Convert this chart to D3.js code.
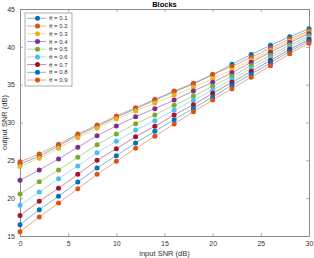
<!DOCTYPE html>
<html>
<head>
<meta charset="utf-8">
<script src="https://cdn.jsdelivr.net/npm/d3@7"></script>
<style>
  body { margin: 0; background: #fff; }
  svg { font-family: "Liberation Sans", Arial, sans-serif; }
</style>
</head>
<body>
<div id="chart"></div>
<script>
// input SNR values (x)
var inputSnr = [0, 2, 4, 6, 8, 10, 12, 14, 16, 18, 20, 22, 24, 26, 28, 30];

var thetas = ['0.1', '0.2', '0.3', '0.4', '0.5', '0.6', '0.7', '0.8', '0.9'];

// output SNR per theta
var s01 = [24.5, 25.55, 26.9, 28.3, 29.5, 30.7, 31.8, 32.95, 34.05, 35.1, 36.3, 37.69, 39.0, 40.2, 41.34, 42.4];
var s02 = [24.8, 25.85, 27.12, 28.48, 29.67, 30.86, 31.96, 33.07, 34.16, 35.18, 36.37, 37.4, 38.62, 39.82, 41.03, 42.13];
var s03 = [24.2, 25.27, 26.59, 27.99, 29.23, 30.46, 31.52, 32.58, 33.6, 34.65, 35.8, 36.95, 38.25, 39.52, 40.78, 41.92];
var s04 = [22.36, 23.72, 25.18, 26.72, 28.26, 29.54, 30.77, 31.83, 32.97, 34.16, 35.31, 36.58, 37.97, 39.28, 40.58, 41.74];
var s05 = [20.55, 22.18, 23.72, 25.4, 27.07, 28.48, 29.85, 31.0, 32.27, 33.5, 34.78, 36.1, 37.52, 38.88, 40.24, 41.45];
var s06 = [19.05, 20.82, 22.58, 24.25, 26.0, 27.52, 29.0, 30.24, 31.65, 32.93, 34.3, 35.71, 37.15, 38.55, 39.97, 41.22];
var s07 = [17.7, 19.59, 21.3, 23.15, 25.0, 26.54, 28.13, 29.5, 30.99, 32.35, 33.86, 35.31, 36.76, 38.2, 39.68, 40.97];
var s08 = [16.5, 18.48, 20.25, 22.14, 23.99, 25.61, 27.29, 28.84, 30.37, 31.88, 33.37, 34.92, 36.39, 37.88, 39.41, 40.74];
var s09 = [15.57, 17.51, 19.36, 21.25, 23.15, 24.87, 26.59, 28.18, 29.8, 31.43, 32.97, 34.47, 35.97, 37.5, 39.1, 40.47];

var xTicks = [0, 5, 10, 15, 20, 25, 30];
var yTicks = [15, 20, 25, 30, 35, 40, 45];

// matlab default line colours, cycling after seven
var colors = ['#0072BD', '#D95319', '#EDB120', '#7E2F8E', '#77AC30', '#4DBEEE', '#A2142F', '#0072BD', '#D95319'];

var series = [s01, s02, s03, s04, s05, s06, s07, s08, s09].map(function(vals, i) {
  return {
    name: thetas[i],
    color: colors[i],
    points: vals.map(function(v, j) { return { x: inputSnr[j], y: v }; })
  };
});

// note: "top" is taken by window.top, so plot edges get their own names
var W = 314, H = 258;
var pLeft = 20, pRight = 309, pTop = 9, pBottom = 236;

var svg = d3.select('#chart').append('svg')
    .attr('width', W)
    .attr('height', H);

var x = d3.scaleLinear().domain([0, 30]).range([pLeft, pRight]);
var y = d3.scaleLinear().domain([15, 45]).range([pBottom, pTop]);

var axisColor = '#8a8a8a';
var textColor = '#333';
var tick = 3;

// axes, matlab style: ticks inside, box on
svg.append('g')
    .attr('transform', 'translate(0,' + pBottom + ')')
    .call(d3.axisBottom(x).tickValues(xTicks).tickSizeInner(-tick).tickSizeOuter(0).tickPadding(5));
svg.append('g')
    .attr('transform', 'translate(0,' + pTop + ')')
    .call(d3.axisTop(x).tickValues(xTicks).tickSizeInner(-tick).tickSizeOuter(0).tickFormat(''));
svg.append('g')
    .attr('transform', 'translate(' + pLeft + ',0)')
    .call(d3.axisLeft(y).tickValues(yTicks).tickSizeInner(-tick).tickSizeOuter(0).tickPadding(5));
svg.append('g')
    .attr('transform', 'translate(' + pRight + ',0)')
    .call(d3.axisRight(y).tickValues(yTicks).tickSizeInner(-tick).tickSizeOuter(0).tickFormat(''));

svg.selectAll('.domain').attr('stroke', axisColor).attr('stroke-width', 1);
svg.selectAll('.tick line').attr('stroke', axisColor).attr('stroke-width', 0.7);
svg.selectAll('.tick text')
    .attr('fill', textColor)
    .style('font-size', '7px');

var line = d3.line()
    .x(function(d) { return x(d.x); })
    .y(function(d) { return y(d.y); });

var plot = svg.append('g');

series.forEach(function(s) {
  var g = plot.append('g');
  g.append('path')
      .datum(s.points)
      .attr('d', line)
      .attr('fill', 'none')
      .attr('stroke', s.color)
      .attr('stroke-opacity', 0.65)
      .attr('stroke-width', 0.8);
  g.selectAll('circle')
      .data(s.points)
      .enter().append('circle')
      .attr('cx', function(d) { return x(d.x); })
      .attr('cy', function(d) { return y(d.y); })
      .attr('r', 2.5)
      .attr('fill', s.color);
});

// title + axis labels
svg.append('text')
    .attr('x', (pLeft + pRight) / 2)
    .attr('y', 7)
    .attr('text-anchor', 'middle')
    .style('font-size', '7.5px')
    .style('font-weight', 'bold')
    .attr('fill', '#000')
    .text('Blocks');

svg.append('text')
    .attr('x', (pLeft + pRight) / 2)
    .attr('y', 256)
    .attr('text-anchor', 'middle')
    .style('font-size', '7.5px')
    .attr('fill', textColor)
    .text('input SNR (dB)');

svg.append('text')
    .attr('transform', 'translate(7,' + (pTop + pBottom) / 2 + ') rotate(-90)')
    .attr('text-anchor', 'middle')
    .style('font-size', '7.5px')
    .attr('fill', textColor)
    .text('output SNR (dB)');

// legend
var lg = svg.append('g').attr('transform', 'translate(25,13)');
lg.append('rect')
    .attr('width', 47)
    .attr('height', 73)
    .attr('fill', '#fff')
    .attr('stroke', axisColor)
    .attr('stroke-width', 0.7);

var items = lg.selectAll('g.item')
    .data(series)
    .enter().append('g')
    .attr('class', 'item')
    .attr('transform', function(d, i) { return 'translate(0,' + (5.3 + i * 7.72) + ')'; });
items.append('line')
    .attr('x1', 2).attr('x2', 21)
    .attr('stroke', function(d) { return d.color; })
    .attr('stroke-opacity', 0.5)
    .attr('stroke-width', 1);
items.append('circle')
    .attr('cx', 12.5)
    .attr('r', 2.5)
    .attr('fill', function(d) { return d.color; });
items.append('text')
    .attr('x', 24)
    .attr('dy', '0.35em')
    .style('font-size', '6px')
    .attr('fill', textColor)
    .text(function(d) { return '\u03b8 = ' + d.name; });
</script>
</body>
</html>
